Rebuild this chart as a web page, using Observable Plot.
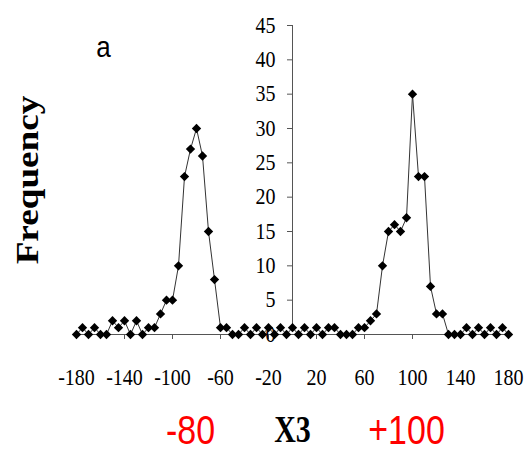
<!DOCTYPE html>
<html><head><meta charset="utf-8">
<script src="https://cdn.jsdelivr.net/npm/d3@7"></script>
<script src="https://cdn.jsdelivr.net/npm/@observablehq/plot@0.6"></script>
<style>body{margin:0;background:#fff}</style>
</head><body><div id="chart"></div>
<script>
const angles = [-180,-175,-170,-165,-160,-155,-150,-145,-140,-135,-130,-125,-120,-115,-110,-105,-100,-95,-90,-85,-80,-75,-70,-65,-60,-55,-50,-45,-40,-35,-30,-25,-20,-15,-10,-5,0,5,10,15,20,25,30,35,40,45,50,55,60,65,70,75,80,85,90,95,100,105,110,115,120,125,130,135,140,145,150,155,160,165,170,175,180];
const frequency = [0,1,0,1,0,0,2,1,2,0,2,0,1,1,3,5,5,10,23,27,30,26,15,8,1,1,0,0,1,0,1,0,1,0,1,0,1,0,1,0,1,0,1,1,0,0,0,1,1,2,3,10,15,16,15,17,35,23,23,7,3,3,0,0,0,1,0,1,0,1,0,1,0];
const xTicks = [-180,-140,-100,-60,-20,20,60,100,140,180];
const yTicks = [0,5,10,15,20,25,30,35,40,45];
const peakAngles = [-80,100];
const peakLabels = ["-80","+100"];
const xTitle = "X3";
const yTitle = "Frequency";
const panel = "a";

const data = angles.map((a,i)=>({angle:a, freq:frequency[i]}));
const serif = "'Liberation Serif','Times New Roman',serif";
const sans = "'Liberation Sans',Arial,sans-serif";
const axisColor = "#555";

const chart = Plot.plot({
  width:532, height:453,
  marginTop:25, marginBottom:119, marginLeft:76, marginRight:24,
  x:{domain:[-180,180]},
  y:{domain:[0,45], axis:null},
  style:{background:"#fff", color:"#000", fontFamily:serif},
  marks:[
    Plot.ruleY([0], {stroke:axisColor}),
    Plot.axisX(xTicks, {tickSize:5, tickPadding:29, fontSize:20, fontFamily:serif, label:null, stroke:axisColor, fill:"#000", tickFormat:d=>String(d)}),
    Plot.ruleX([0], {y1:0, y2:45, insetTop:-6, stroke:axisColor}),
    Plot.ruleY(yTicks, {y:d=>d, x1:0, x2:0, insetLeft:-5, stroke:axisColor}),
    Plot.text(yTicks, {x:0, y:d=>d, text:d=>String(d), textAnchor:"end", dx:-17, fontSize:20, fontFamily:serif, fill:"#000"}),
    Plot.line(data, {x:"angle", y:"freq", stroke:"#333", strokeWidth:1}),
    Plot.dot(data, {x:"angle", y:"freq", symbol:"diamond2", r:4.2, fill:"#000", stroke:"none"}),
    Plot.text([xTitle], {frameAnchor:"bottom", textAnchor:"middle", lineAnchor:"middle", dy:95, fontSize:30, fontWeight:"bold", fontFamily:serif, fill:"#000"}),
    Plot.text(peakAngles, {x:d=>d, text:(d,i)=>peakLabels[i], frameAnchor:"bottom", textAnchor:"middle", lineAnchor:"middle", dx:-6, dy:97, fontSize:34, fontFamily:sans, fill:"red"}),
    Plot.text([yTitle], {frameAnchor:"left", textAnchor:"middle", lineAnchor:"middle", dx:-48, dy:0, rotate:-90, fontSize:31, fontWeight:"bold", fontFamily:serif, fill:"#000"}),
    Plot.text([panel], {frameAnchor:"top-left", textAnchor:"middle", lineAnchor:"middle", dx:27, dy:22, fontSize:26, fontFamily:sans, fill:"#000"})
  ]
});
// the reference's lettering is stretched vertically
function stretch(nodes, s) {
  nodes.forEach(t => {
    const tr = t.getAttribute("transform") || "";
    t.setAttribute("transform", tr + " " + s);
  });
}
const textGroups = chart.querySelectorAll('g[aria-label="text"]');
stretch(chart.querySelectorAll('g[aria-label^="x-axis tick label"] text'), "scale(1,1.14)");
stretch(textGroups[0].querySelectorAll("text"), "scale(1,1.14)");   // y tick labels
stretch(textGroups[1].querySelectorAll("text"), "scale(1,1.25)");   // X3
stretch(textGroups[2].querySelectorAll("text"), "scale(1,1.18)");   // peak labels
stretch(textGroups[3].querySelectorAll("text"), "scale(1.2,1)");    // Frequency (rotated)
stretch(textGroups[4].querySelectorAll("text"), "scale(1,1.15)");   // panel letter
document.getElementById("chart").appendChild(chart);
</script>
</body></html>
